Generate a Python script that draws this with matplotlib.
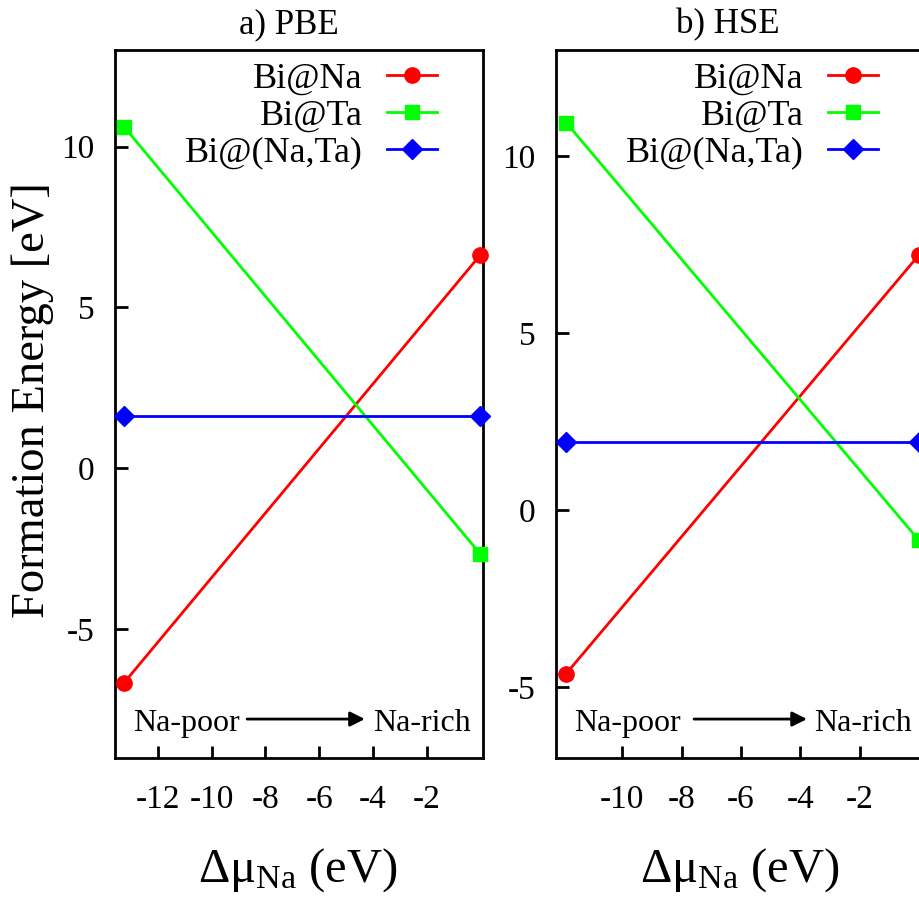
"""Bi 掺杂形成能随 Na 化学势变化图 (PBE / HSE)"""
import matplotlib
matplotlib.use('Agg')  # 非交互式后端
import matplotlib.pyplot as plt

plt.rcParams['font.family'] = ['Liberation Serif', 'DejaVu Serif']
plt.rcParams['mathtext.fontset'] = 'custom'
plt.rcParams['mathtext.rm'] = 'Liberation Serif'
plt.rcParams['mathtext.it'] = 'Liberation Serif'
plt.rcParams['mathtext.default'] = 'regular'
plt.rcParams['axes.unicode_minus'] = False  # 刻度用普通连字符

# ---- 数据 ----
series_labels = ['Bi@Na', 'Bi@Ta', 'Bi@(Na,Ta)']
series_colors = ['#ff0000', '#00ff00', '#0000ff']
series_markers = ['o', 's', 'D']

pbe_mu = [-13.27, 0.0]
pbe_bi_na = [-6.67, 6.63]
pbe_bi_ta = [10.62, -2.66]
pbe_bi_nata = [1.64, 1.64]

hse_mu = [-11.89, 0.0]
hse_bi_na = [-4.62, 7.21]
hse_bi_ta = [10.95, -0.85]
hse_bi_nata = [1.94, 1.94]

pbe_xticks = [-12, -10, -8, -6, -4, -2]
hse_xticks = [-10, -8, -6, -4, -2]
yticks = [-5, 0, 5, 10]

W, H = 919, 898
fig = plt.figure(figsize=(W / 100, H / 100), dpi=100)


def draw_panel(rect, mu, values, xlim, ylim, xticks, arrow_x):
    ax = fig.add_axes(rect)
    marker_sizes = {'o': 11, 's': 10, 'D': 10.5}
    for vals, label, color, marker in zip(values, series_labels, series_colors, series_markers):
        ax.plot(mu, vals, color=color, lw=2, marker=marker,
                markersize=marker_sizes[marker], label=label, clip_on=False, zorder=3)
    ax.set_xlim(*xlim)
    ax.set_ylim(*ylim)
    ax.set_xticks(xticks)
    ax.set_yticks(yticks)
    ax.tick_params(direction='in', length=9, width=2, labelsize=24,
                   top=False, right=False)
    ax.tick_params(axis='x', pad=19)
    ax.tick_params(axis='y', pad=15)
    for sp in ax.spines.values():
        sp.set_linewidth(2)

    ax.legend(loc='upper right', bbox_to_anchor=(0.875, 0.982), frameon=False,
              markerfirst=False, handlelength=1.39, handletextpad=0.67,
              labelspacing=0.1, borderpad=0, borderaxespad=0, numpoints=1,
              fontsize=26)

    # Na-poor -> Na-rich 标注
    ax.text(0.049, 0.038, 'Na-poor', transform=ax.transAxes, ha='left',
            va='baseline', fontsize=23)
    ax.text(0.701, 0.038, 'Na-rich', transform=ax.transAxes, ha='left',
            va='baseline', fontsize=23)
    ax.annotate('', xy=(arrow_x[1], 0.055), xytext=(arrow_x[0], 0.055),
                xycoords='axes fraction', textcoords='axes fraction',
                arrowprops=dict(arrowstyle='-|>', color='black', lw=2,
                                mutation_scale=22, shrinkA=0, shrinkB=0))
    return ax


ax_a = draw_panel([115 / W, 1 - 758 / H, 368 / W, 708 / H], pbe_mu,
                  [pbe_bi_na, pbe_bi_ta, pbe_bi_nata], (-13.6, 0.1), (-9, 13),
                  pbe_xticks, (0.359, 0.679))
ax_b = draw_panel([556 / W, 1 - 758 / H, 368 / W, 708 / H], hse_mu,
                  [hse_bi_na, hse_bi_ta, hse_bi_nata], (-12.23, 0.17), (-7, 13),
                  hse_xticks, (0.375, 0.682))

# 标题与坐标轴标签
fig.text(289 / W, 1 - 33 / H, 'a) PBE', ha='center', va='baseline', fontsize=25)
fig.text(728 / W, 1 - 33 / H, 'b) HSE', ha='center', va='baseline', fontsize=25)
fig.text(33 / W, 1 - 400 / H, 'Formation Energy [eV]', rotation=90,
         ha='center', va='center', fontsize=33.5)
xlabel = r'$\Delta\mu_{Na}$ (eV)'
fig.text(298 / W, 1 - 882 / H, xlabel, ha='center', va='baseline', fontsize=35)
fig.text(740 / W, 1 - 882 / H, xlabel, ha='center', va='baseline', fontsize=35)

fig.savefig('out.png', dpi=100, facecolor='white')
plt.close(fig)
